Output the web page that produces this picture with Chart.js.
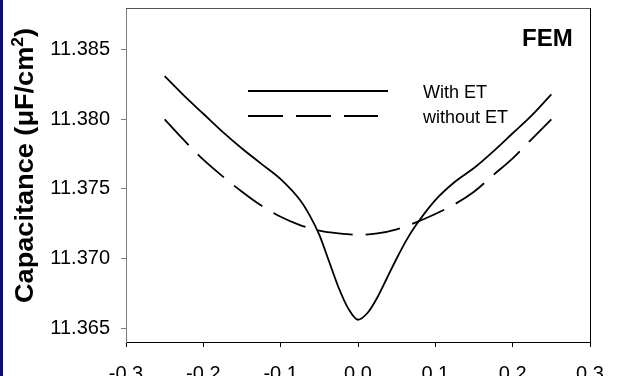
<!DOCTYPE html>
<html>
<head>
  <title>FEM capacitance</title>
  <style>
    html, body { margin: 0; padding: 0; background: #fff; overflow: hidden; }
    #edge { position: absolute; left: 0; top: 0; width: 3px; height: 400px; background: #0c0c6a; }
    canvas { display: block; }
  </style>
</head>
<body>
  <div id="edge"></div>
  <canvas id="fem-chart" width="621" height="400"></canvas>

  <script src="https://cdn.jsdelivr.net/npm/chart.js"></script>
  <script>
    // values
    const xWith = [-0.25, -0.225, -0.2, -0.175, -0.15, -0.125, -0.1, -0.075, -0.0625, -0.05, -0.0375, -0.025, -0.0125,
      0, 0.0125, 0.025, 0.0375, 0.05, 0.0625, 0.075, 0.1, 0.125, 0.15, 0.175, 0.2, 0.225, 0.25];
    const yWith = [11.3831, 11.3817, 11.3804, 11.3791, 11.3779, 11.3768, 11.3757, 11.3742, 11.3731, 11.3717, 11.3698, 11.3679, 11.3664,
      11.3656, 11.3661, 11.3672, 11.3686, 11.3700, 11.3713, 11.3724, 11.3742, 11.3755, 11.3765, 11.3777, 11.3790, 11.3803, 11.3818];

    const xWithout = [-0.25, -0.225, -0.2, -0.175, -0.15, -0.125, -0.1, -0.075, -0.05, -0.025,
      0, 0.025, 0.05, 0.075, 0.1, 0.125, 0.15, 0.175, 0.2, 0.225, 0.25];
    const yWithout = [11.3800, 11.3785, 11.3771, 11.3759, 11.3748, 11.3738, 11.3730, 11.3724, 11.3720, 11.3718,
      11.3717, 11.3718, 11.3721, 11.3726, 11.3732, 11.3739, 11.3748, 11.3760, 11.3772, 11.3786, 11.3800];

    const xTicks = [-0.3, -0.2, -0.1, 0.0, 0.1, 0.2, 0.3];
    const yTicks = [11.365, 11.370, 11.375, 11.380, 11.385];

    const seriesNames = ['With ET', 'without ET'];
    const fam = "Arial, 'Liberation Sans', sans-serif";

    function toPoints(xs, ys) {
      return xs.map((x, i) => ({ x: x, y: ys[i] }));
    }

    // frame, legend, FEM label and the y title with superscript
    const decor = {
      id: 'decor',
      afterDraw(chart) {
        const ctx = chart.ctx;
        const a = chart.chartArea;
        ctx.save();

        ctx.lineWidth = 1;
        ctx.strokeStyle = '#555';
        ctx.beginPath();
        ctx.moveTo(a.left, Math.round(a.top) + 0.5);
        ctx.lineTo(a.right, Math.round(a.top) + 0.5);
        ctx.stroke();
        ctx.strokeStyle = '#000';
        ctx.beginPath();
        ctx.moveTo(Math.round(a.right) + 0.5, a.top);
        ctx.lineTo(Math.round(a.right) + 0.5, a.bottom);
        ctx.stroke();

        // legend
        ctx.lineWidth = 1.8;
        ctx.beginPath();
        ctx.moveTo(248, 91);
        ctx.lineTo(388, 91);
        ctx.stroke();
        ctx.setLineDash([35, 13]);
        ctx.beginPath();
        ctx.moveTo(248, 116);
        ctx.lineTo(378, 116);
        ctx.stroke();
        ctx.setLineDash([]);

        ctx.fillStyle = '#000';
        ctx.textAlign = 'left';
        ctx.textBaseline = 'alphabetic';
        ctx.font = '18px ' + fam;
        ctx.fillText(seriesNames[0], 423, 98);
        ctx.fillText(seriesNames[1], 423, 123);

        ctx.font = 'bold 24px ' + fam;
        ctx.fillText('FEM', 522, 46);

        // y axis title, rotated
        const big = 'bold 25px ' + fam;
        const small = 'bold 16px ' + fam;
        const partA = 'Capacitance (\u03bcF/cm';
        ctx.font = big;
        const wA = ctx.measureText(partA).width;
        const wC = ctx.measureText(')').width;
        ctx.font = small;
        const wB = ctx.measureText('2').width;
        const s = 275 / (wA + wB + wC);

        ctx.translate(33, 303);
        ctx.rotate(-Math.PI / 2);
        ctx.scale(s, 1);
        ctx.font = big;
        ctx.fillText(partA, 0, 0);
        ctx.font = small;
        ctx.fillText('2', wA, -10);
        ctx.font = big;
        ctx.fillText(')', wA + wB, 0);

        ctx.restore();
      }
    };

    const ctx = document.getElementById('fem-chart').getContext('2d');
    new Chart(ctx, {
      type: 'scatter',
      data: {
        datasets: [{
          label: seriesNames[0],
          data: toPoints(xWith, yWith),
          showLine: true,
          borderColor: '#000',
          borderWidth: 1.8,
          pointRadius: 0,
          cubicInterpolationMode: 'monotone'
        }, {
          label: seriesNames[1],
          data: toPoints(xWithout, yWithout),
          showLine: true,
          borderColor: '#000',
          borderWidth: 1.8,
          borderDash: [35, 13],
          pointRadius: 0,
          cubicInterpolationMode: 'monotone'
        }]
      },
      options: {
        responsive: false,
        animation: false,
        layout: { padding: { top: 8, right: 31, left: 0, bottom: 0 }, autoPadding: false },
        plugins: { legend: { display: false }, tooltip: { enabled: false } },
        scales: {
          x: {
            type: 'linear',
            min: -0.3,
            max: 0.3,
            afterBuildTicks: sc => { sc.ticks = xTicks.map(v => ({ value: v })); },
            afterFit: sc => { sc.height = 58; sc.paddingLeft = 0; sc.paddingRight = 0; },
            border: { color: '#000', width: 1 },
            grid: { drawOnChartArea: false, tickLength: 5, color: '#000' },
            ticks: {
              color: '#000',
              font: { family: fam, size: 20 },
              padding: 15,
              maxRotation: 0,
              autoSkip: false,
              callback: v => v.toFixed(1)
            }
          },
          y: {
            type: 'linear',
            min: 11.364,
            max: 11.388,
            afterBuildTicks: sc => { sc.ticks = yTicks.map(v => ({ value: v })); },
            afterFit: sc => { sc.width = 126; sc.paddingTop = 0; sc.paddingBottom = 0; },
            border: { color: '#808080', width: 1 },
            grid: { drawOnChartArea: false, tickLength: 5, color: '#808080' },
            ticks: {
              color: '#000',
              font: { family: fam, size: 20 },
              padding: 11,
              callback: v => v.toFixed(3)
            }
          }
        }
      },
      plugins: [decor]
    });
  </script>
</body>
</html>
